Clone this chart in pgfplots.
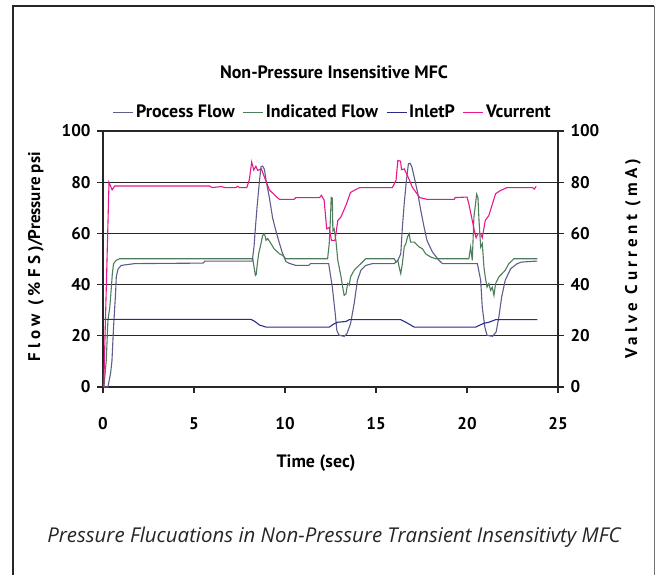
\documentclass[border=0pt]{standalone}
\usepackage{pgfplots}
\pgfplotsset{compat=1.18}
\usepackage{fontspec}
\setmainfont{PT Sans}
\newfontfamily\capfont{Open Sans}

\definecolor{pflow}{HTML}{5E5E8C}
\definecolor{iflow}{HTML}{4E7D5B}
\definecolor{inletp}{HTML}{2B2B8A}
\definecolor{vcur}{HTML}{E8178C}

\pgfplotsset{
  mfc/.style={
    at={(103bp,-387bp)}, anchor=south west,
    scale only axis, width=455bp, height=256bp,
    xmin=0, xmax=25, ymin=0, ymax=100,
    ytick={0,20,...,100},
    tick align=outside, major tick length=6bp,
    tick style={black!85, line width=1.1bp},
    axis line style={black!85, line width=1.1bp},
    /pgf/number format/assume math mode=true,
    ticklabel style={font=\fontsize{17}{17}\selectfont\bfseries},
  },
}

\begin{document}
\begin{tikzpicture}[x=1bp,y=1bp]
\useasboundingbox (0,0) rectangle (655,-575);
\draw[line width=2.2bp, black!85] (654,-6) -- (13,-6) -- (13,-580);
\draw[line width=1bp, black!55] (654,-6) -- (654,-580);

\begin{axis}[mfc,
  xtick={0,5,...,25}, xtick pos=lower, ytick pos=left,
  xticklabel style={yshift=-21bp},
  yticklabel style={xshift=-3bp},
  ymajorgrids, grid style={black!85, line width=1.1bp},
  legend columns=4,
  legend style={at={(0.505,1.074)}, anchor=center, draw=none, fill=none,
    font=\fontsize{18}{18}\selectfont\bfseries,
    /tikz/every even column/.append style={column sep=6bp}},
  legend image code/.code={\draw[#1] (0bp,0bp) -- (20bp,0bp);},
]
\addplot[pflow, line width=1.1bp] coordinates {
(0.04,0)(0.27,0)(0.42,5.5)(0.49,10)(0.58,23.4)(0.69,36.5)(0.73,43)(0.82,46)
(1.0,47.5)(1.74,48.2)(5.5,48.4)(5.6,49.2)(8.2,49.2)(8.3,55)(8.35,60)(8.46,70)
(8.6,80.7)(8.68,86)(8.77,86.3)(8.87,85)(8.96,80.7)(9.14,74)(9.32,66)(9.5,61)
(9.7,56)(9.84,52.7)(10.05,49)(10.24,48.3)(10.6,47.5)(11.3,47.5)(11.4,48.2)
(12.4,48.2)(12.6,39)(12.76,28.6)(12.85,22)(12.98,20.2)(13.25,19.8)(13.4,20.8)
(13.6,24.7)(13.8,32.6)(13.98,41.7)(14.17,45.6)(14.44,47.5)(14.8,48.2)(16.0,48.2)
(16.2,49.5)(16.36,52)(16.45,62.5)(16.55,71.6)(16.67,80.7)(16.78,87.2)(16.87,87.4)
(16.97,86)(17.1,82)(17.3,75.5)(17.46,69)(17.64,62.5)(17.8,57.3)(18.1,52.7)
(18.46,49.5)(18.65,48.2)(20.57,48.2)(20.75,41.7)(20.84,31)(20.98,23.4)(21.1,20.2)
(21.4,19.8)(21.6,21.5)(21.75,27.3)(21.9,35)(22.1,41.7)(22.4,46.2)(22.76,48.2)
(23.0,48.8)(23.86,49.2)
};
\addlegendentry{Process Flow}
\addplot[iflow, line width=1.1bp] coordinates {
(0.05,0)(0.18,10.4)(0.27,26)(0.37,31)(0.46,39)(0.51,44)(0.58,48.2)(0.73,49.5)
(0.91,50.1)(8.23,50.1)(8.3,46.9)(8.37,43.6)(8.42,44)(8.46,46.9)(8.55,52)(8.68,56)
(8.77,59.2)(8.87,59.9)(8.96,57.3)(9.05,58)(9.23,56)(9.4,54)(9.7,52)(9.87,51.4)
(10.05,50.1)(12.34,50.1)(12.43,56)(12.49,65)(12.54,74)(12.6,73.8)(12.63,61)
(12.7,61.8)(12.8,57)(12.9,49.5)(13.08,43)(13.17,39)(13.25,35.8)(13.35,36.4)
(13.44,40.4)(13.53,39.8)(13.6,43)(13.8,45.6)(13.98,46.9)(14.17,48.2)(14.35,49.5)
(14.44,50.1)(16.0,50.1)(16.1,48.8)(16.2,49.5)(16.27,46.9)(16.36,44.3)(16.45,48.2)
(16.55,54.7)(16.64,56)(16.73,58.6)(16.82,59.9)(16.9,56.6)(17.1,56.6)(17.37,54.7)
(17.55,54)(17.73,52)(18.0,50.8)(18.28,50.1)(20.1,50.1)(20.2,54.7)(20.29,49.5)
(20.38,66.4)(20.47,71.6)(20.53,75.3)(20.6,74)(20.66,65)(20.75,54.7)(20.84,56)
(20.93,46.9)(21.0,43)(21.1,39)(21.2,40.4)(21.3,37.8)(21.39,39)(21.48,35.8)
(21.57,40.4)(21.75,43)(21.93,44.3)(22.1,45.6)(22.3,48.2)(22.58,50.1)(23.86,50.1)
};
\addlegendentry{Indicated Flow}
\addplot[inletp, line width=1.1bp] coordinates {
(0,26.4)(8.13,26.4)(8.3,25.8)(8.4,25.3)(8.6,24.2)(8.96,23.4)(12.43,23.4)
(12.7,24.7)(12.9,25.3)(13.35,25.6)(13.53,26.3)(16.36,26.3)(16.64,25.3)(17.1,23.4)
(20.47,23.4)(20.93,24.9)(21.2,25.3)(21.57,26.3)(23.86,26.3)
};
\addlegendentry{InletP}
\addlegendimage{vcur, line width=1.1bp}
\addlegendentry{Vcurrent}
\end{axis}

\begin{axis}[mfc,
  axis x line=none, axis y line*=right,
  yticklabel style={xshift=3bp},
]
\addplot[vcur, line width=1.1bp] coordinates {
(0.04,0)(0.33,80)(0.5,77)(0.64,78.5)(5.85,78.5)(6.0,77.9)(6.5,78.3)(6.7,77.9)
(7.3,77.9)(7.4,78.4)(7.5,77.9)(7.9,77.9)(8.04,81)(8.17,87.9)(8.28,84.8)(8.4,86.2)
(8.5,84.6)(8.7,85.2)(8.8,83.3)(9.14,77)(9.5,74.5)(9.7,73.3)(10.5,73.3)(10.6,74)
(11.9,74)(12.0,74.9)(12.15,73)(12.29,61.8)(12.43,62.3)(12.55,57.3)(12.75,57.3)
(12.9,65)(13.07,66.4)(13.2,68.5)(13.35,71)(13.6,76)(13.9,77.2)(14.1,77.9)
(15.9,77.9)(16.1,80.7)(16.2,88.5)(16.35,88.2)(16.4,84.9)(16.55,85.2)(16.8,81.4)
(17.0,78)(17.2,76)(17.4,74)(17.8,73.3)(19.3,73.3)(19.35,74)(20.0,74.2)
(20.1,71.6)(20.4,61.2)(20.5,58.3)(20.6,59.9)(20.75,59.9)(20.84,58.3)(21.0,65)
(21.2,67)(21.57,75.5)(21.85,76.8)(22.2,77.9)(23.6,77.9)(23.7,77.3)(23.8,78.4)
};
\end{axis}

\node[font=\fontsize{18}{18}\selectfont\bfseries] at (334,-72) {Non-Pressure Insensitive MFC};
\node[font=\fontsize{18}{18}\selectfont\bfseries] at (316,-463) {Time (sec)};
\node[font=\fontsize{17}{17}\selectfont\bfseries, rotate=90] at (36,-257)
  {{\addfontfeature{LetterSpace=25}Flow (\%FS)}/Pressure psi};
\node[font=\fontsize{17}{17}\selectfont\bfseries, rotate=90] at (633,-259)
  {\addfontfeature{LetterSpace=25}Valve Current (mA)};
\node[font=\capfont\itshape\fontsize{20.5}{20.5}\selectfont, text=black!85] at (334,-537)
  {Pressure Flucuations in Non-Pressure Transient Insensitivty MFC};
\end{tikzpicture}
\end{document}
